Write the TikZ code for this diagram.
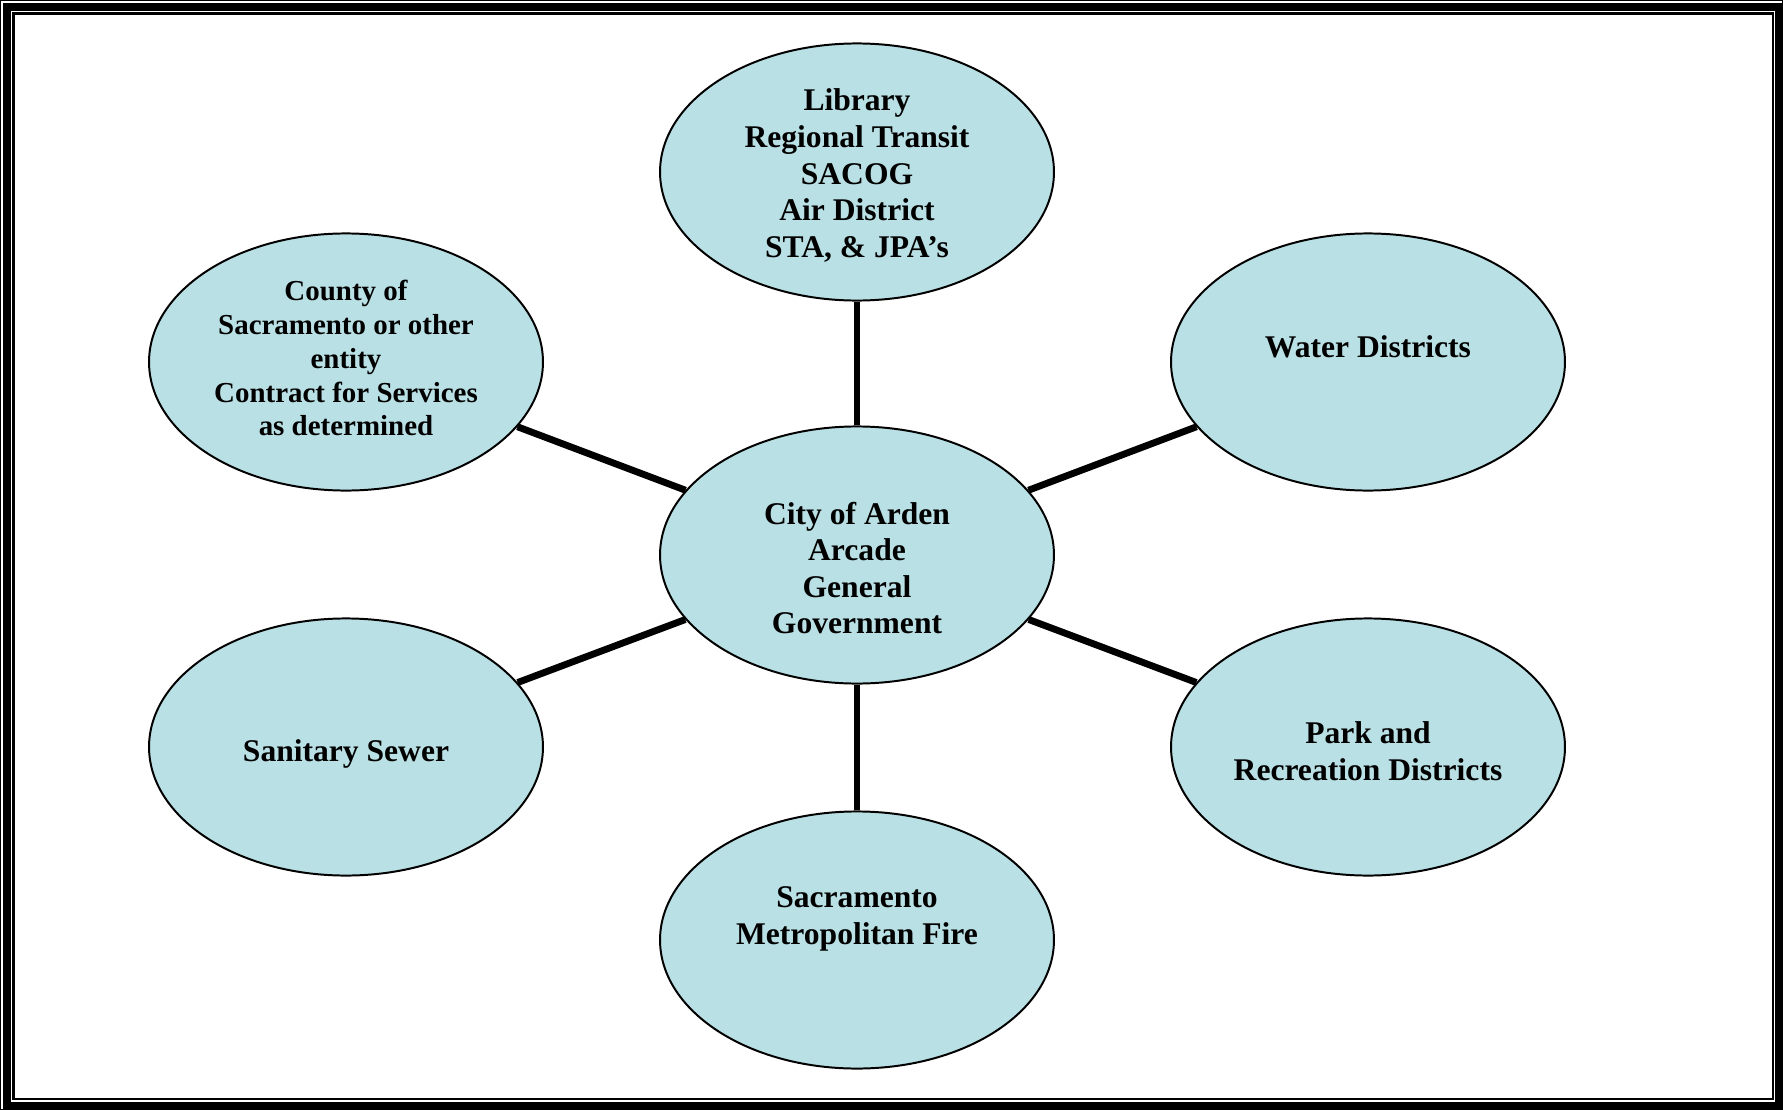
\documentclass[tikz,border=0pt]{standalone}
\usepackage{fontspec}
\setmainfont{Liberation Serif}
\usetikzlibrary{shapes.geometric}

\definecolor{hubfill}{RGB}{185,224,228}
\tikzset{
  hub/.style={ellipse,draw,fill=hubfill,line width=0.75pt,
    minimum width=149.7pt,minimum height=97.7pt,inner sep=0pt},
  txt/.style={align=center,inner sep=0pt,
    font=\fontsize{12}{13.9}\selectfont\bfseries},
  smalltxt/.style={txt,font=\fontsize{11}{12.9}\selectfont\bfseries},
  link/.style={line width=2.6pt}
}

\begin{document}
\begin{tikzpicture}[x=0.38pt,y=-0.38pt]

      \useasboundingbox (0,0) rectangle (1783,1110);
      % page border
      \draw[line width=0.38pt] (0.5,0.5) rectangle (1782.5,1109.5);
      \draw[line width=3.04pt] (7,7) rectangle (1779,1106);
      \draw[line width=0.95pt] (13.3,13.3) rectangle (1773,1099);

      \path (857,555) node [hub](city){};
      \path (857,172) node [hub](library){};
      \path (346,362) node [hub](county){};
      \path (1368,362) node [hub](water){};
      \path (346,747) node [hub](sewer){};
      \path (1368,747) node [hub](park){};
      \path (857,940) node [hub](fire){};

      \path (city) ++(0,13) node [txt](city_txt){City of Arden\\Arcade\\General\\Government};
      \path (library) ++(0,3.5) node [txt](library_txt){Library\\Regional Transit\\SACOG\\Air District\\STA, \& JPA’s};
      \path (county) ++(0,-4) node [smalltxt](county_txt){County of\\Sacramento or other\\entity\\Contract for Services\\as determined};
      \path (water) ++(0,-15) node [txt](water_txt){Water Districts};
      \path (sewer) ++(0,7) node [txt](sewer_txt){Sanitary Sewer};
      \path (park) ++(0,4) node [txt](park_txt){Park and\\Recreation Districts};
      \path (fire) ++(0,-21) node [txt](fire_txt){Sacramento\\Metropolitan Fire};

      \draw[link] (city) -- (library);
      \draw[link] (city) -- (county);
      \draw[link] (city) -- (water);
      \draw[link] (city) -- (sewer);
      \draw[link] (city) -- (park);
      \draw[link] (city) -- (fire);

\end{tikzpicture}
\end{document}
